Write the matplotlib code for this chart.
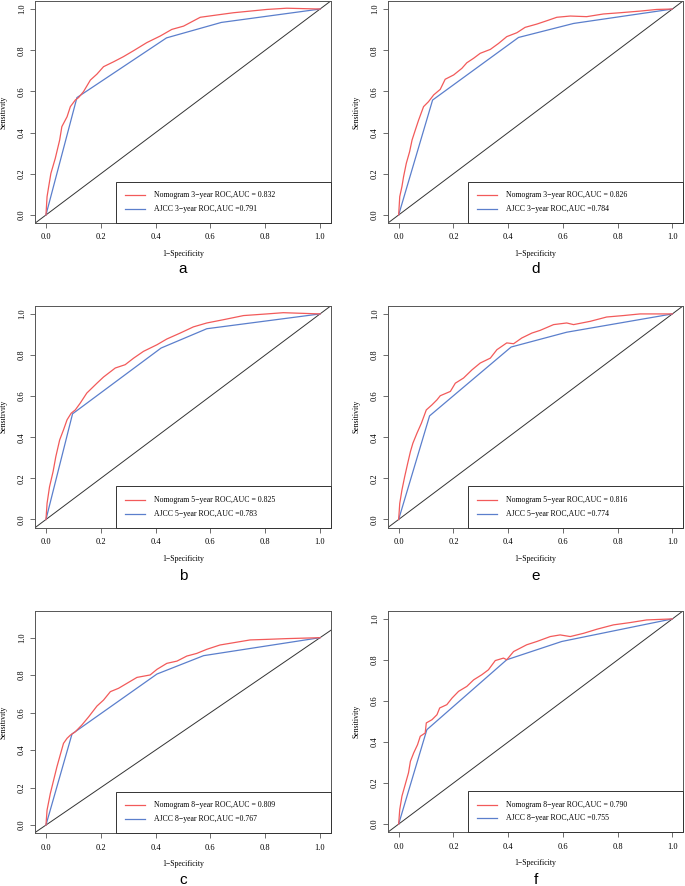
import matplotlib
matplotlib.use("Agg")
import matplotlib.pyplot as plt
from matplotlib.patches import Rectangle

# ---------------- data ----------------
panel_letters = ["a", "d", "b", "e", "c", "f"]
years = [3, 3, 5, 5, 8, 8]
nomo_auc = ["0.832", "0.826", "0.825", "0.816", "0.809", "0.790"]
ajcc_auc = ["0.791", "0.784", "0.783", "0.774", "0.767", "0.755"]

# panel a
a_nomo_x = [0, 0.004, 0.01, 0.018, 0.034, 0.05, 0.058, 0.077, 0.089, 0.107, 0.119, 0.137, 0.162, 0.186,
            0.21, 0.247, 0.283, 0.32, 0.368, 0.417, 0.459, 0.502, 0.563, 0.623, 0.684, 0.745, 0.806, 0.878, 1.0]
a_nomo_y = [0, 0.089, 0.138, 0.202, 0.275, 0.364, 0.429, 0.477, 0.526, 0.558, 0.570, 0.599, 0.655, 0.684,
            0.72, 0.744, 0.769, 0.798, 0.837, 0.869, 0.901, 0.917, 0.96, 0.971, 0.982, 0.99, 0.998, 1.004, 1.0]
a_ajcc_x = [0, 0.113, 0.44, 0.64, 1.0]
a_ajcc_y = [0, 0.57, 0.86, 0.935, 1.0]

# panel d
d_nomo_x = [0, 0.004, 0.012, 0.018, 0.028, 0.04, 0.049, 0.061, 0.073, 0.091, 0.109, 0.128, 0.152, 0.170,
            0.201, 0.231, 0.249, 0.274, 0.298, 0.335, 0.365, 0.395, 0.432, 0.462, 0.505, 0.541, 0.578,
            0.627, 0.687, 0.748, 0.809, 0.882, 0.943, 1.0]
d_nomo_y = [0, 0.089, 0.138, 0.186, 0.251, 0.307, 0.364, 0.413, 0.461, 0.526, 0.550, 0.583, 0.610, 0.659,
            0.680, 0.712, 0.739, 0.761, 0.785, 0.804, 0.833, 0.866, 0.885, 0.911, 0.927, 0.943, 0.960,
            0.966, 0.963, 0.976, 0.982, 0.990, 0.998, 1.0]
d_ajcc_x = [0, 0.124, 0.438, 0.639, 1.0]
d_ajcc_y = [0, 0.558, 0.862, 0.930, 1.0]

# panel b
b_nomo_x = [0, 0.004, 0.013, 0.026, 0.036, 0.05, 0.064, 0.077, 0.092, 0.107, 0.125, 0.149, 0.186, 0.21,
            0.253, 0.289, 0.320, 0.356, 0.405, 0.441, 0.490, 0.538, 0.587, 0.648, 0.721, 0.806, 0.866, 1.0]
b_nomo_y = [0, 0.078, 0.159, 0.233, 0.306, 0.387, 0.436, 0.485, 0.517, 0.533, 0.566, 0.615, 0.663, 0.693,
            0.737, 0.753, 0.785, 0.818, 0.850, 0.878, 0.907, 0.937, 0.956, 0.972, 0.992, 1.0, 1.006, 1.0]
b_ajcc_x = [0, 0.097, 0.420, 0.587, 1.0]
b_ajcc_y = [0, 0.514, 0.834, 0.928, 1.0]

# panel e
e_nomo_x = [0, 0.004, 0.012, 0.022, 0.033, 0.043, 0.052, 0.067, 0.083, 0.101, 0.122, 0.140, 0.152, 0.189,
            0.207, 0.237, 0.268, 0.298, 0.335, 0.359, 0.395, 0.420, 0.450, 0.487, 0.517, 0.566, 0.614,
            0.639, 0.70, 0.760, 0.821, 0.882, 1.0]
e_nomo_y = [0, 0.078, 0.143, 0.208, 0.273, 0.330, 0.371, 0.420, 0.468, 0.533, 0.558, 0.582, 0.602, 0.623,
            0.663, 0.688, 0.728, 0.761, 0.785, 0.826, 0.859, 0.855, 0.883, 0.907, 0.920, 0.948, 0.956,
            0.948, 0.964, 0.985, 0.992, 1.0, 1.0]
e_ajcc_x = [0, 0.113, 0.411, 0.614, 1.0]
e_ajcc_y = [0, 0.504, 0.839, 0.911, 1.0]

# panel c
c_nomo_x = [0, 0.004, 0.016, 0.028, 0.04, 0.052, 0.064, 0.077, 0.089, 0.107, 0.131, 0.156, 0.186, 0.210,
            0.235, 0.265, 0.295, 0.332, 0.380, 0.405, 0.441, 0.478, 0.514, 0.550, 0.587, 0.635, 0.684,
            0.745, 0.806, 0.878, 1.0]
c_nomo_y = [0, 0.080, 0.169, 0.240, 0.311, 0.374, 0.436, 0.463, 0.480, 0.498, 0.534, 0.578, 0.635, 0.667,
            0.712, 0.730, 0.756, 0.788, 0.801, 0.831, 0.863, 0.875, 0.902, 0.916, 0.938, 0.961, 0.973,
            0.988, 0.991, 0.995, 1.0]
c_ajcc_x = [0, 0.095, 0.405, 0.575, 1.0]
c_ajcc_y = [0, 0.486, 0.806, 0.904, 1.0]

# panel f
f_nomo_x = [0, 0.004, 0.012, 0.024, 0.036, 0.043, 0.055, 0.069, 0.079, 0.097, 0.101, 0.122, 0.140, 0.150,
            0.176, 0.195, 0.219, 0.249, 0.274, 0.304, 0.328, 0.353, 0.383, 0.395, 0.420, 0.468, 0.505,
            0.554, 0.590, 0.627, 0.676, 0.725, 0.785, 0.845, 0.906, 1.0]
f_nomo_y = [0, 0.071, 0.136, 0.193, 0.250, 0.306, 0.347, 0.387, 0.428, 0.444, 0.493, 0.509, 0.533, 0.566,
            0.582, 0.614, 0.647, 0.671, 0.703, 0.728, 0.752, 0.797, 0.809, 0.801, 0.841, 0.874, 0.890,
            0.914, 0.922, 0.914, 0.930, 0.950, 0.971, 0.982, 0.995, 1.0]
f_ajcc_x = [0, 0.103, 0.395, 0.596, 1.0]
f_ajcc_y = [0, 0.460, 0.801, 0.890, 1.0]

ylim_tops = [1.0, 1.0, 1.0, 1.0, 1.1, 1.0]

nomo_x = [a_nomo_x, d_nomo_x, b_nomo_x, e_nomo_x, c_nomo_x, f_nomo_x]
nomo_y = [a_nomo_y, d_nomo_y, b_nomo_y, e_nomo_y, c_nomo_y, f_nomo_y]
ajcc_x = [a_ajcc_x, d_ajcc_x, b_ajcc_x, e_ajcc_x, c_ajcc_x, f_ajcc_x]
ajcc_y = [a_ajcc_y, d_ajcc_y, b_ajcc_y, e_ajcc_y, c_ajcc_y, f_ajcc_y]

ticks = [0.0, 0.2, 0.4, 0.6, 0.8, 1.0]
tick_labels = ["0.0", "0.2", "0.4", "0.6", "0.8", "1.0"]

# ---------------- layout (pixels) ----------------
W, H = 685, 886
DPI = 100
lefts = [35, 387.7]
rights = [331, 683.3]
tops = [0.8, 305.7, 610.7]
bottoms = [[223.2, 223.2], [527.7, 527.7], [833.3, 832.3]]
letter_y = [269, 576, 880]

RED = "#F25A5A"
BLUE = "#5B7FCC"
FRAME = "#555555"
serif = ["Liberation Serif", "DejaVu Serif"]

fig = plt.figure(figsize=(W / DPI, H / DPI), dpi=DPI)

for i in range(6):
    row, col = divmod(i, 2)
    l, r = lefts[col], rights[col]
    t, b = tops[row], bottoms[row][col]
    ax = fig.add_axes([l / W, 1 - b / H, (r - l) / W, (b - t) / H])
    ytop = ylim_tops[i]
    ax.set_xlim(-0.04, 1.04)
    ax.set_ylim(-0.04 * ytop, ytop * 1.04)

    ax.axline((0, 0), slope=1, color="#333333", lw=0.7, zorder=1)
    ax.plot(ajcc_x[i], ajcc_y[i], color=BLUE, lw=0.9, zorder=2)
    ax.plot(nomo_x[i], nomo_y[i], color=RED, lw=0.9, zorder=3)

    ax.set_xticks(ticks)
    ax.set_xticklabels(tick_labels, fontfamily=serif, fontsize=6.0)
    ax.set_yticks(ticks)
    ax.set_yticklabels(tick_labels, fontfamily=serif, fontsize=6.0, rotation=90, va="center")
    ax.tick_params(direction="out", length=3.6, width=0.6, color=FRAME, pad=3.8)
    ax.tick_params(axis="y", pad=2.8)
    for s in ax.spines.values():
        s.set_color(FRAME)
        s.set_linewidth(0.7)

    # legend box (bottom-right, flush with axes)
    ax.add_patch(Rectangle((0.2726, 0.0), 1 - 0.2726, 0.186, transform=ax.transAxes,
                           facecolor="white", edgecolor="#333333", lw=0.7, zorder=5, clip_on=False))
    for yy, col_, lab in [(0.125, RED, f"Nomogram {years[i]}\u2212year ROC,AUC = {nomo_auc[i]}"),
                          (0.0625, BLUE, f"AJCC {years[i]}\u2212year ROC,AUC ={ajcc_auc[i]}")]:
        ax.plot([0.303, 0.370], [yy, yy], transform=ax.transAxes, color=col_, lw=0.9, zorder=6)
        ax.text(0.401, yy, lab, transform=ax.transAxes, fontfamily=serif, fontsize=5.6,
                va="center", ha="left", zorder=6)

    # axis labels
    cx = (l + r) / 2
    fig.text(cx / W, 1 - (b + 31) / H, "1\u2212Specificity", fontfamily=serif, fontsize=5.6,
             ha="center", va="center")
    fig.text((l - 31) / W, 1 - ((t + b) / 2) / H, "Sensitivity", fontfamily=serif, fontsize=5.6,
             ha="center", va="center", rotation=90)
    fig.text(cx / W, 1 - letter_y[row] / H, panel_letters[i],
             fontfamily=["Liberation Sans", "DejaVu Sans"], fontsize=11, ha="center", va="center")

fig.savefig("out.png", dpi=DPI, facecolor="white")
